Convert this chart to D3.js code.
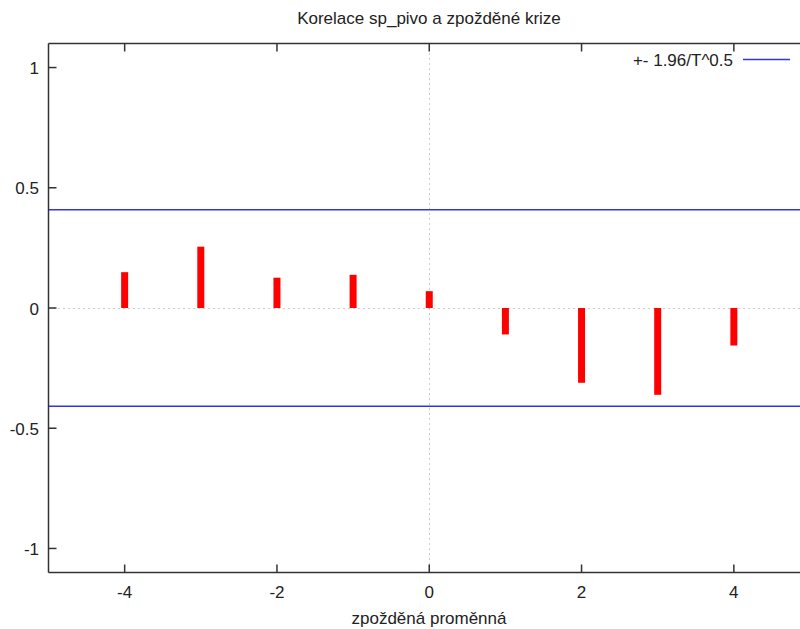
<!DOCTYPE html>
<html><head><meta charset="utf-8">
<script src="https://cdn.jsdelivr.net/npm/d3@7"></script>
<style>body{margin:0;background:#fff}svg{display:block}text{font-family:"Liberation Sans",Arial,sans-serif;fill:#222}</style>
</head><body><svg id="c" width="800" height="629"></svg>
<script>
const lags = [-4,-3,-2,-1,0,1,2,3,4];
const corr = [0.149,0.255,0.126,0.138,0.070,-0.110,-0.311,-0.361,-0.156];
const bound = 0.4087;
const xTicks = [-4,-2,0,2,4];
const yTicks = [-1,-0.5,0,0.5,1];
const title = "Korelace sp_pivo a zpožděné krize";
const xLabel = "zpožděná proměnná";
const legendLabel = "+- 1.96/T^0.5";

const svg = d3.select("#c");
const L=48.5, R=810, T=43.5, B=572.5;
const x = d3.scaleLinear().domain([-5,5]).range([L,R]);
const y = d3.scaleLinear().domain([-1.1,1.1]).range([B,T]);
const FS = 17;

// zero lines (dotted grey)
svg.append("line").attr("x1",L).attr("x2",R).attr("y1",Math.round(y(0))+0.5).attr("y2",Math.round(y(0))+0.5)
  .attr("stroke","#999").attr("stroke-width",1).attr("stroke-dasharray","1,4");
svg.append("line").attr("x1",Math.round(x(0))+0.5).attr("x2",Math.round(x(0))+0.5).attr("y1",T).attr("y2",B)
  .attr("stroke","#999").attr("stroke-width",1).attr("stroke-dasharray","1,4");

// bound lines
[bound,-bound].forEach(b=>{
  svg.append("line").attr("x1",L).attr("x2",R).attr("y1",y(b)).attr("y2",y(b))
    .attr("stroke","#3333ee").attr("stroke-width",1.3);
});

// bars
svg.selectAll("rect.bar").data(lags).enter().append("rect").attr("class","bar")
  .attr("x",(d)=>x(d)-3.5).attr("width",7)
  .attr("y",(d,i)=>Math.min(y(0),y(corr[i])))
  .attr("height",(d,i)=>Math.abs(y(corr[i])-y(0)))
  .attr("fill","#ff0000");

// frame
const g = svg.append("g").attr("stroke","#333").attr("stroke-width",1.5).attr("fill","none");
g.append("line").attr("x1",L).attr("x2",R).attr("y1",T).attr("y2",T);
g.append("line").attr("x1",L).attr("x2",R).attr("y1",B).attr("y2",B);
g.append("line").attr("x1",L).attr("x2",L).attr("y1",T).attr("y2",B);

// x ticks bottom & top
xTicks.forEach(t=>{
  g.append("line").attr("x1",x(t)).attr("x2",x(t)).attr("y1",B).attr("y2",B-8);
  g.append("line").attr("x1",x(t)).attr("x2",x(t)).attr("y1",T).attr("y2",T+8);
  svg.append("text").attr("x",x(t)).attr("y",597.5).attr("text-anchor","middle").attr("font-size",FS).text(String(t));
});
// y ticks
yTicks.forEach(t=>{
  g.append("line").attr("x1",L).attr("x2",L+8).attr("y1",y(t)).attr("y2",y(t));
  svg.append("text").attr("x",39).attr("y",y(t)+6.5).attr("text-anchor","end").attr("font-size",FS).text(String(t));
});

svg.append("text").attr("x",429).attr("y",24).attr("text-anchor","middle").attr("font-size",FS).text(title);
svg.append("text").attr("x",429).attr("y",624).attr("text-anchor","middle").attr("font-size",FS).text(xLabel);

// legend
svg.append("text").attr("x",733).attr("y",65.5).attr("text-anchor","end").attr("font-size",FS).text(legendLabel);
svg.append("line").attr("x1",743).attr("x2",790).attr("y1",59.5).attr("y2",59.5).attr("stroke","#3333ee").attr("stroke-width",1.3);
</script></body></html>
